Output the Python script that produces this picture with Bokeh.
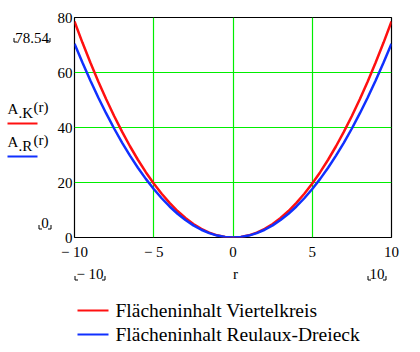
from bokeh.plotting import figure
from bokeh.models import Range1d, FixedTicker
from bokeh.layouts import column, row
from bokeh.core.properties import value
from bokeh.embed import file_html
from bokeh.resources import INLINE

# ---- data ----
r = [-10, -9.5, -9, -8.5, -8, -7.5, -7, -6.5, -6, -5.5, -5, -4.5, -4, -3.5, -3, -2.5, -2, -1.5, -1, -0.5,
     0, 0.5, 1, 1.5, 2, 2.5, 3, 3.5, 4, 4.5, 5, 5.5, 6, 6.5, 7, 7.5, 8, 8.5, 9, 9.5, 10]
a_k = [78.54, 70.88, 63.62, 56.75, 50.27, 44.18, 38.48, 33.18, 28.27, 23.76, 19.63, 15.90, 12.57, 9.62,
       7.07, 4.91, 3.14, 1.77, 0.79, 0.20, 0.0, 0.20, 0.79, 1.77, 3.14, 4.91, 7.07, 9.62, 12.57, 15.90,
       19.63, 23.76, 28.27, 33.18, 38.48, 44.18, 50.27, 56.75, 63.62, 70.88, 78.54]
a_r = [70.48, 63.61, 57.09, 50.92, 45.11, 39.64, 34.53, 29.78, 25.37, 21.32, 17.62, 14.27, 11.28, 8.63,
       6.34, 4.41, 2.82, 1.59, 0.70, 0.18, 0.0, 0.18, 0.70, 1.59, 2.82, 4.41, 6.34, 8.63, 11.28, 14.27,
       17.62, 21.32, 25.37, 29.78, 34.53, 39.64, 45.11, 50.92, 57.09, 63.61, 70.48]
x_ticks = [-10, -5, 0, 5, 10]
x_tick_labels = {-10: "\u2212 10", -5: "\u2212 5", 0: "0", 5: "5", 10: "10"}
y_ticks = [0, 20, 40, 60, 80]
series_names = ["Flächeninhalt Viertelkreis", "Flächeninhalt Reulaux-Dreieck"]
series_labels = [("A", ".K", "(r)"), ("A", ".R", "(r)")]
y_limit_labels = ["78.54", "0"]
x_limit_labels = ["\u2212 10", "r", "10"]
series_colors = ["#ff1010", "#1030ff"]

SERIF = "Liberation Serif"
W, H = 420, 352
LEFT_W = 53          # width of the left label strip
TOP_H = 262          # height of the top row
L, R, T, B = 74, 391, 17, 237   # plot frame in page pixels


def strip(w, h, top=0, bottom=0):
    f = figure(width=w, height=h, output_backend="svg", toolbar_location=None,
               x_range=Range1d(0, w), y_range=Range1d(h - bottom, top),
               min_border=0, min_border_left=0, min_border_right=0,
               min_border_top=top, min_border_bottom=bottom)
    f.axis.visible = False
    f.grid.visible = False
    f.outline_line_color = None
    f.background_fill_color = "white"
    f.border_fill_color = "white"
    return f


def txt(f, s, x, y, size="15px", align="left"):
    f.text(x=[x], y=[y], text=[s], text_font=value(SERIF), text_font_size=value(size),
           text_align=align, text_baseline="middle", text_color="black")


def brackets(f, x0, x1, yb):
    f.multi_line(xs=[[x0, x0, x0 + 3], [x1 - 3, x1, x1]],
                 ys=[[yb - 4, yb, yb], [yb, yb, yb - 4]],
                 line_color="black", line_width=1)


def limit_label(f, s, x0, x1, yc, yb):
    txt(f, s, (x0 + x1) / 2, yc, align="center")
    brackets(f, x0, x1, yb)


# ---- left strip (frame aligned with main frame; coordinates = page pixels) ----
lf = strip(LEFT_W, TOP_H, top=T, bottom=TOP_H - B)
limit_label(lf, y_limit_labels[0], 13.5, 49.5, 37, 41.5)
for i, (base, sub, arg) in enumerate(series_labels):
    dy = 33 * i
    txt(lf, base, 7, 108 + dy)
    txt(lf, sub, 18, 112 + dy)
    txt(lf, arg, 33, 106 + dy)
    lf.segment(x0=[7], y0=[123 + dy], x1=[37], y1=[123 + dy], line_color=series_colors[i], line_width=2.2)
limit_label(lf, y_limit_labels[1], 38.5, 50.5, 222, 228.5)

# ---- main plot ----
p = figure(width=W - LEFT_W, height=TOP_H, output_backend="svg", toolbar_location=None,
           x_range=Range1d(-10, 10), y_range=Range1d(0, 80),
           min_border_left=L - LEFT_W, min_border_right=W - R, min_border_top=T,
           min_border_bottom=TOP_H - B)
p.background_fill_color = "white"
p.border_fill_color = "white"
p.outline_line_color = "black"
p.outline_line_width = 1.2

p.xaxis.ticker = FixedTicker(ticks=x_ticks)
p.yaxis.ticker = FixedTicker(ticks=y_ticks)
p.xaxis.major_label_overrides = x_tick_labels
for ax in (p.xaxis, p.yaxis):
    ax.axis_line_color = None
    ax.major_tick_line_color = None
    ax.minor_tick_line_color = None
    ax.major_tick_out = 0
    ax.major_tick_in = 0
    ax.minor_tick_out = 0
    ax.minor_tick_in = 0
    ax.major_label_text_font = SERIF
    ax.major_label_text_font_size = "15px"
    ax.major_label_text_color = "black"
p.xaxis.major_label_standoff = 6
p.yaxis.major_label_standoff = 2

p.xgrid.ticker = FixedTicker(ticks=[-5, 0, 5])
p.ygrid.ticker = FixedTicker(ticks=[20, 40, 60])
for g in (p.xgrid, p.ygrid):
    g.grid_line_color = "#00ee00"
    g.grid_line_width = 1.2

p.line(r, a_k, line_color=series_colors[0], line_width=2.5)
p.line(r, a_r, line_color=series_colors[1], line_width=2.5)

# ---- bottom strip (coordinates = page pixels shifted by TOP_H) ----
bf = strip(W, H - TOP_H)
oy = TOP_H
limit_label(bf, x_limit_labels[0], 74.5, 104.5, 273 - oy, 279.5 - oy)
txt(bf, x_limit_labels[1], 235, 273 - oy, align="center")
limit_label(bf, x_limit_labels[2], 367.5, 385.5, 273 - oy, 279.5 - oy)
for i, name in enumerate(series_names):
    yy = 310 + 24 * i - oy
    bf.segment(x0=[77], y0=[yy], x1=[108], y1=[yy], line_color=series_colors[i], line_width=2.2)
    txt(bf, name, 115, yy, size="19.5px")

layout = column(row(lf, p, spacing=0), bf, spacing=0)
open("out.html", "w").write(file_html(layout, INLINE))
